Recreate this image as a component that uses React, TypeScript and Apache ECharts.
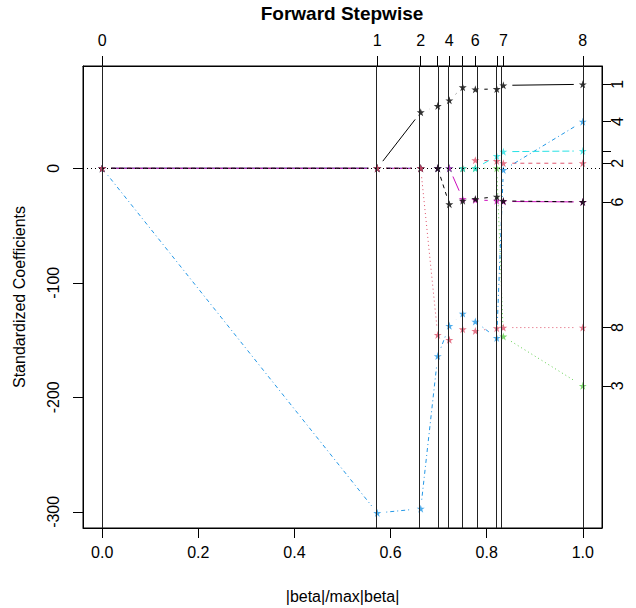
import React, { useEffect, useRef } from "react";
import * as echarts from "echarts";

// step positions (|beta|/max|beta|)
const steps = [0, 0.5724, 0.6628, 0.6982, 0.7223, 0.7502, 0.7764, 0.821, 0.8347, 1.0];
// labelled step positions on the top axis
const topLabelPos = [0, 0.5724, 0.6628, 0.7223, 0.7764, 0.8347, 1.0];
const topLabels = ["0", "1", "2", "4", "6", "7", "8"];
// bottom axis ticks
const bottomTicks = [0, 0.2, 0.4, 0.6, 0.8, 1.0];
// left axis ticks
const leftTicks = [0, -100, -200, -300];

// standardized coefficients per variable at each step
const var1 = [0, 0, 48.9, 54.4, 59.3, 70.7, 68.9, 69.2, 72.4, 73.3];
const var2 = [0, 0, 0, 0, 0, 0, 7.0, 6.4, 4.4, 4.4];
const var3 = [0, 0, 0, 0, 0, 0, 0, 0, -146.9, -190.0];
const var4 = [0, -301.0, -297.2, -164.0, -137.6, -126.9, -133.9, -148.1, -1.5, 40.7];
const var5 = [0, 0, 0, 0, 0, 0, 0, 10.7, 14.5, 15.1];
const var6 = [0, 0, 0, 0, 0, -26.8, -27.7, -28.3, -29.0, -29.4];
const var7 = [0, 0, 0, 0, -31.4, -28.3, -26.8, -24.8, -28.5, -29.4];
const var8 = [0, 0, 0, -145.5, -149.8, -140.5, -142.0, -139.6, -139.1, -139.1];

const varNames = ["1", "2", "3", "4", "5", "6", "7", "8"];
// which variable numbers get a label on the right axis
const rightLabelled = ["1", "2", "3", "4", "6", "8"];

const FONT = "'Liberation Sans', Arial, Helvetica, sans-serif";

const STAR =
  "path://M50,0 L61.8,35.4 L100,35.4 L69.1,57.3 L80.9,92.7 L50,70.8 L19.1,92.7 L30.9,57.3 L0,35.4 L38.2,35.4 Z";

export default function App() {
  const ref = useRef<HTMLDivElement>(null);
  useEffect(() => {
    if (!ref.current) return;
    const chart = echarts.init(ref.current, undefined, { renderer: "svg" });
    const vars = [var1, var2, var3, var4, var5, var6, var7, var8];
    const colors = ["#000000", "#DF536B", "#61D04F", "#2297E6", "#28E2E5", "#CD0BBC", "#000000", "#DF536B"];
    const dashes: (number[] | null)[] = [null, [4, 4], [1, 3], [1, 3, 4, 3], [7, 3], null, [4, 4], [1, 3]];

    const yMin = -314.1;
    const yMax = 89.3;
    const xMin = -0.04;
    const xMax = 1.04;

    const finals = vars.map((v) => v[v.length - 1]);
    const rightLabelVals = varNames
      .map((n, i) => ({ n, v: finals[i] }))
      .filter((d) => rightLabelled.includes(d.n));

    const series: any[] = [];
    vars.forEach((vals, k) => {
      const segs: number[][] = [];
      for (let i = 0; i < steps.length - 1; i++) {
        segs.push([steps[i], vals[i], steps[i + 1], vals[i + 1]]);
      }
      series.push({
        type: "custom",
        name: "seg" + varNames[k],
        xAxisIndex: 0,
        yAxisIndex: 0,
        silent: true,
        z: 3,
        encode: { x: [0, 2], y: [1, 3] },
        data: segs,
        renderItem: (params: any, api: any) => {
          const p1 = api.coord([api.value(0), api.value(1)]);
          const p2 = api.coord([api.value(2), api.value(3)]);
          const dx = p2[0] - p1[0];
          const dy = p2[1] - p1[1];
          const len = Math.hypot(dx, dy);
          const gap = 9;
          if (len <= 2 * gap) return { type: "group", children: [] };
          const ux = dx / len;
          const uy = dy / len;
          return {
            type: "line",
            shape: {
              x1: p1[0] + ux * gap,
              y1: p1[1] + uy * gap,
              x2: p2[0] - ux * gap,
              y2: p2[1] - uy * gap,
            },
            style: {
              stroke: colors[k],
              lineWidth: 1,
              lineDash: dashes[k] || undefined,
            },
          };
        },
      });
    });
    vars.forEach((vals, k) => {
      series.push({
        type: "scatter",
        name: "var" + varNames[k],
        xAxisIndex: 0,
        yAxisIndex: 0,
        symbol: STAR,
        symbolSize: 8,
        silent: true,
        z: 4,
        itemStyle: { color: colors[k] },
        data: steps.map((s, i) => [s, vals[i]]),
      });
    });
    // reference lines: vertical at each step, dotted at zero
    series.push({
      type: "line",
      name: "ref",
      xAxisIndex: 0,
      yAxisIndex: 0,
      data: [],
      silent: true,
      z: 2,
      markLine: {
        silent: true,
        symbol: ["none", "none"],
        label: { show: false },
        animation: false,
        data: [
          ...steps.map((s) => ({ xAxis: s, lineStyle: { color: "#222", width: 1, type: "solid" } })),
          { yAxis: 0, lineStyle: { color: "#000", width: 1, type: [1, 3] } },
        ],
      },
    });

    const lblStyle = { color: "#000", fontFamily: FONT, fontSize: 16 };

    chart.setOption({
      animation: false,
      backgroundColor: "#fff",
      title: {
        text: "Forward Stepwise",
        left: 342,
        top: 4,
        padding: 0,
        textAlign: "center",
        textStyle: { fontFamily: FONT, fontSize: 19, fontWeight: "bold", color: "#000" },
      },
      grid: {
        left: 83,
        right: 34,
        top: 66,
        bottom: 80,
        containLabel: false,
        outerBoundsMode: "none",
        show: true,
        borderColor: "#000",
        borderWidth: 1,
        backgroundColor: "transparent",
      },
      xAxis: [
        {
          type: "value",
          position: "bottom",
          min: xMin,
          max: xMax,
          name: "|beta|/max|beta|",
          nameLocation: "middle",
          nameGap: 60,
          nameTextStyle: { ...lblStyle },
          axisLine: { show: true, onZero: false, lineStyle: { color: "#000" } },
          axisTick: { show: true, length: 10, customValues: bottomTicks, lineStyle: { color: "#000" } },
          axisLabel: {
            ...lblStyle,
            margin: 16,
            customValues: bottomTicks,
            formatter: (v: number) => v.toFixed(1),
          },
          splitLine: { show: false },
        },
        {
          type: "value",
          position: "top",
          min: xMin,
          max: xMax,
          axisLine: { show: true, onZero: false, lineStyle: { color: "#000" } },
          axisTick: { show: true, length: 10, customValues: steps, lineStyle: { color: "#000" } },
          axisLabel: {
            ...lblStyle,
            margin: 18,
            customValues: topLabelPos,
            formatter: (v: number) => {
              const i = topLabelPos.findIndex((p) => Math.abs(p - v) < 1e-6);
              return i >= 0 ? topLabels[i] : "";
            },
          },
          splitLine: { show: false },
        },
      ],
      yAxis: [
        {
          type: "value",
          position: "left",
          min: yMin,
          max: yMax,
          name: "Standardized Coefficients",
          nameLocation: "middle",
          nameGap: 56,
          nameRotate: 90,
          nameTextStyle: { ...lblStyle },
          axisLine: { show: true, onZero: false, lineStyle: { color: "#000" } },
          axisTick: { show: true, length: 10, customValues: leftTicks, lineStyle: { color: "#000" } },
          axisLabel: {
            ...lblStyle,
            margin: 22,
            rotate: 90,
            customValues: leftTicks,
            formatter: (v: number) => String(Math.round(v)),
          },
          splitLine: { show: false },
        },
        {
          type: "value",
          position: "right",
          min: yMin,
          max: yMax,
          axisLine: { show: true, onZero: false, lineStyle: { color: "#000" } },
          axisTick: { show: true, length: 9, customValues: finals, lineStyle: { color: "#000" } },
          axisLabel: {
            ...lblStyle,
            margin: 7,
            rotate: 90,
            customValues: rightLabelVals.map((d) => d.v),
            formatter: (v: number) => {
              const d = rightLabelVals.find((e) => Math.abs(e.v - v) < 1e-6);
              return d ? d.n : "";
            },
          },
          splitLine: { show: false },
        },
      ],
      series,
    });
    return () => chart.dispose();
  }, []);
  return (
    <div
      ref={ref}
      style={{ position: "absolute", left: 0, top: 0, width: 636, height: 608, background: "#fff" }}
    />
  );
}
